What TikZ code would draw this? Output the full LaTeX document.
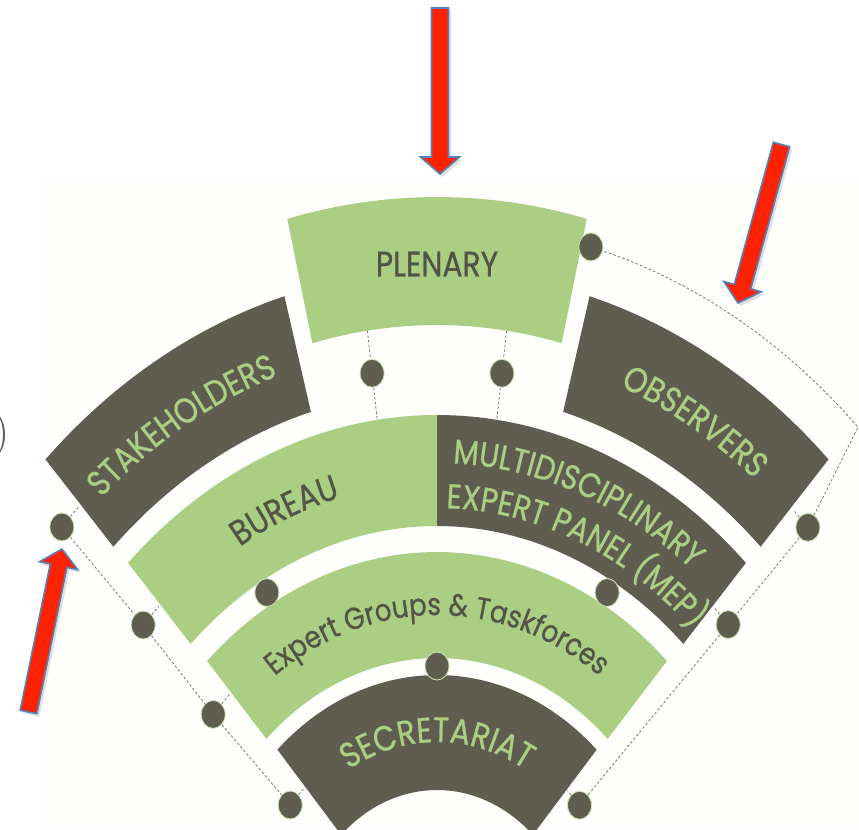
\documentclass[tikz,border=0pt]{standalone}
\usepackage{fontspec}
\newfontfamily\gothic[FakeStretch=0.85,FakeBold=0.8]{Poppins}
\usetikzlibrary{calc,decorations.text,shadows,shapes.geometric,backgrounds}
\definecolor{fandark}{RGB}{95,93,80}
\definecolor{fangreen}{RGB}{170,206,130}
\definecolor{fantext}{RGB}{82,84,72}
\definecolor{fanpaper}{RGB}{254,254,252}
\definecolor{arrowred}{RGB}{255,34,0}
\definecolor{arrowblue}{RGB}{84,130,190}
\definecolor{linkgrey}{RGB}{120,120,115}
\newcommand\capsfont{\gothic\fontsize{20}{24}\selectfont}
\newcommand\mepfont{\gothic\fontsize{19.5}{22}\selectfont}
\newcommand\egfont{\gothic\fontsize{17.5}{20}\selectfont}
\newcommand\secfont{\gothic\fontsize{20}{24}\selectfont}
% annular sector: style, from angle, to angle, inner radius, outer radius
\newcommand\fansector[5]{%
  \fill[#1] (#2:#5) arc[start angle=#2,end angle=#3,radius=#5]
    -- (#3:#4) arc[start angle=#3,end angle=#2,radius=#4] -- cycle;}

\begin{document}
\begin{tikzpicture}[x=0.2mm,y=0.2mm,
    darksec/.style={fill=fandark},
    greensec/.style={fill=fangreen},
    dot/.style={ellipse,fill=fandark,draw=fangreen!60!white,line width=0.5pt,
      minimum width=4.8mm,minimum height=5.6mm,inner sep=0pt},
    link/.style={draw=linkgrey,line width=0.45pt,dash pattern=on 1.5pt off 1.2pt},
    arctext/.style={decorate,decoration={text along path,#1}},
    redarrow/.style={fill=arrowred,draw=arrowblue,line width=0.9pt,
      drop shadow={shadow xshift=0.5mm,shadow yshift=-0.6mm,opacity=0.25}}]
  \useasboundingbox (0,0) rectangle (859,-829);
  \begin{pgfonlayer}{background}
    \fill[fanpaper] (40,-180) rectangle (859,-829);
  \end{pgfonlayer}
  \node[inner sep=0pt,anchor=east,text=black!65,font=\fontsize{26}{26}\selectfont] (paren) at (10,-435) {)};

  \begin{scope}[shift={(437,-963)},xscale=0.825]
    % fan sectors, outer ring first
    \fansector{greensec}{76.3}{103.7}{638}{766}
    \fansector{darksec}{105.5}{133.3}{572}{692}
    \fansector{darksec}{46.7}{74.5}{572}{692}
    \fansector{greensec}{90}{133.1}{437}{548}
    \fansector{darksec}{46.9}{90}{437}{548}
    \fansector{greensec}{47.3}{132.7}{305}{411}
    \fansector{darksec}{47.8}{132.2}{173}{288}

    % labels
    \node[text=fantext,font=\capsfont] (plenary) at (90:699) {PLENARY};
    \path[arctext={text align=center,text color=fangreen,text={|\capsfont|STAKEHOLDERS}}]
      (135:618) arc[start angle=135,end angle=104,radius=618];
    \path[arctext={text align=center,text color=fangreen,text={|\capsfont|OBSERVERS}}]
      (76:618) arc[start angle=76,end angle=45,radius=618];
    \path[arctext={text align=center,text color=fantext,text={|\capsfont|BUREAU}}]
      (133:480) arc[start angle=133,end angle=90,radius=480];
    \path[arctext={text color=fangreen,text={|\mepfont|MULTIDISCIPLINARY}}]
      (87.8:500) arc[start angle=87.8,end angle=20,radius=500];
    \path[arctext={text color=fangreen,text={|\mepfont|EXPERT PANEL (MEP)}}]
      (88.6:455) arc[start angle=88.6,end angle=20,radius=455];
    \path[arctext={text align=center,text color=fantext,text={|\egfont|Expert Groups {\&} Taskforces}}]
      (145:348) arc[start angle=145,end angle=35,radius=348];
    \path[arctext={text align=center,text color=fangreen,text={|\secfont|SECRETARIAT}}]
      (145:221) arc[start angle=145,end angle=35,radius=221];

    % dots
    \node[dot] (top) at (75.4:740) {};
    \node[dot] (p1) at (97.6:595) {};
    \node[dot] (p2) at (82.4:595) {};
    \node[dot] (b1) at (119.1:424) {};
    \node[dot] (b2) at (60.9:424) {};
    \node[dot] (s1) at (90:297) {};
    \node[dot] (l1) at (136.2:630) {};
    \node[dot] (l2) at (136.5:491) {};
    \node[dot] (l3) at (137.5:368) {};
    \node[dot] (l4) at (138.4:238) {};
    \node[dot] (r1) at (44.1:626) {};
    \node[dot] (r2) at (43.8:489) {};
    \node[dot] (r3) at (42.4:234) {};

    % where the dashed links meet the sectors
    \coordinate (pa1) at (97.6:638);  \coordinate (pb1) at (97.6:548);
    \coordinate (pa2) at (82.4:638);  \coordinate (pb2) at (82.4:548);
    \coordinate (tl1) at (133.6:630); \coordinate (tl2) at (133.4:491);
    \coordinate (tl3) at (133:368);   \coordinate (tl4) at (132.5:238);
    \coordinate (tr1) at (46.4:626);  \coordinate (tr2) at (46.6:489);
    \coordinate (tr3) at (47.5:234);

    \begin{pgfonlayer}{background}
      \draw[link] (pa1) -- (p1) -- (pb1);
      \draw[link] (pa2) -- (p2) -- (pb2);
      \draw[link] (top) arc[start angle=75.4,end angle=46.4,radius=740] -- (r1) -- (r2) -- (r3);
      \draw[link] (l1) -- (l2) -- (l3) -- (l4);
      \foreach \i in {1,...,4} {\draw[link] (l\i) -- (tl\i);}
      \foreach \i in {1,2,3} {\draw[link] (r\i) -- (tr\i);}
    \end{pgfonlayer}
  \end{scope}

  % red block arrows
  \coordinate (tail1) at (440,-8);     \coordinate (tip1) at (440,-174);
  \coordinate (tail2) at (781.5,-144.5); \coordinate (tip2) at (738,-303);
  \coordinate (tail3) at (28.5,-712);  \coordinate (tip3) at (62,-549);
  \foreach \i in {1,2,3} {
    \coordinate (hb\i) at ($(tip\i)!3.4mm!(tail\i)$);
    \path[redarrow] ($(tail\i)!1.7mm!90:(tip\i)$) -- ($(hb\i)!1.7mm!-90:(tail\i)$)
      -- ($(hb\i)!3.9mm!-90:(tail\i)$) -- (tip\i) -- ($(hb\i)!3.9mm!90:(tail\i)$)
      -- ($(hb\i)!1.7mm!90:(tail\i)$) -- ($(tail\i)!1.7mm!-90:(tip\i)$) -- cycle;
  }
\end{tikzpicture}
\end{document}
